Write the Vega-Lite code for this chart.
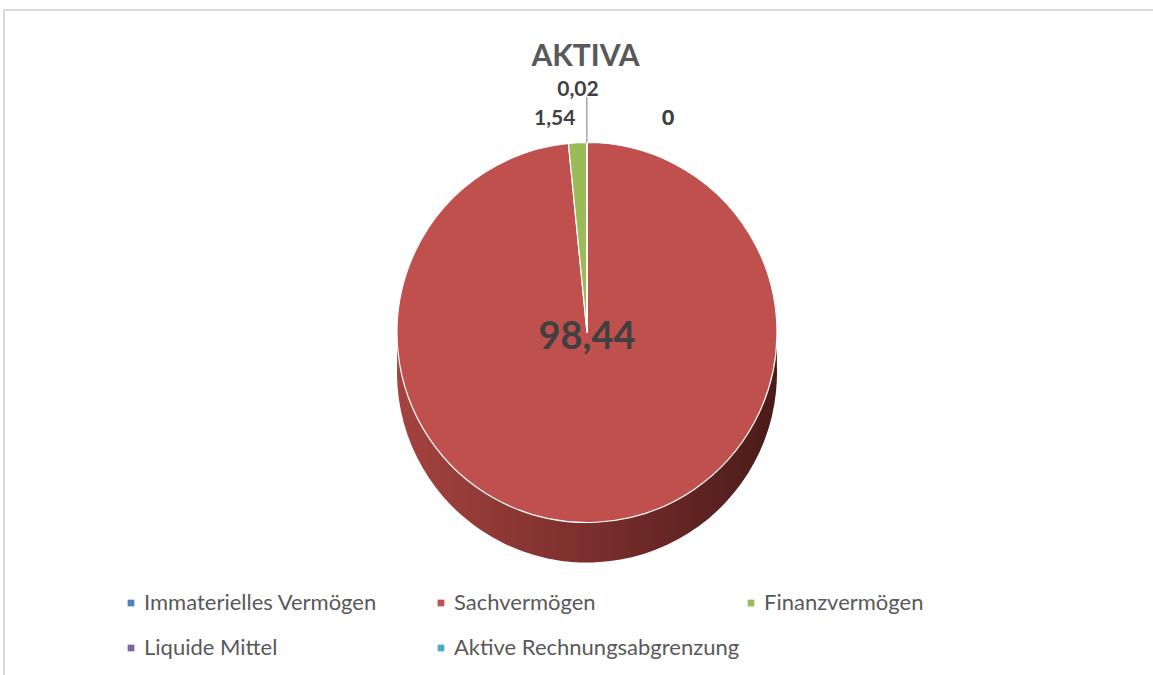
{
  "$schema": "https://vega.github.io/schema/vega-lite/v6.json",
  "width": 1153,
  "height": 675,
  "autosize": {"type": "fit", "contains": "padding"},
  "padding": {"left": 4, "top": 10, "right": -4, "bottom": -4},
  "background": "white",
  "view": {"stroke": "#d0d0d0", "strokeWidth": 1.5},
  "config": {
    "view": {"stroke": "#d0d0d0", "strokeWidth": 1.5},
    "locale": {"number": {"decimal": ",", "thousands": ".", "grouping": [3], "currency": ["", " €"]}}
  },
  "title": {
    "text": "AKTIVA",
    "font": "Lato",
    "fontSize": 30,
    "fontWeight": "bold",
    "color": "#595959",
    "anchor": "middle",
    "offset": -62,
    "dx": 5
  },
  "data": {
    "values": [
      {"nr": 1, "kategorie": "Immaterielles Vermögen", "wert": 0},
      {"nr": 2, "kategorie": "Sachvermögen", "wert": 98.44},
      {"nr": 3, "kategorie": "Finanzvermögen", "wert": 1.54},
      {"nr": 4, "kategorie": "Liquide Mittel", "wert": 0.02},
      {"nr": 5, "kategorie": "Aktive Rechnungsabgrenzung", "wert": 0}
    ]
  },
  "transform": [
    {"stack": "wert", "groupby": [], "sort": [{"field": "nr", "order": "ascending"}], "as": ["v0", "v1"]}
  ],
  "layer": [
    {
      "mark": {"type": "arc", "radius": 190, "xOffset": 6.5, "yOffset": 28, "stroke": null,
        "color": {"gradient": "linear", "x1": 0, "y1": 0, "x2": 1, "y2": 0,
          "stops": [{"offset": 0, "color": "#a4433f"}, {"offset": 0.5, "color": "#7b2f2d"}, {"offset": 1, "color": "#4a1b19"}]}},
      "encoding": {
        "theta": {"field": "v0", "type": "quantitative", "scale": {"domain": [0, 100]}},
        "theta2": {"field": "v1"}
      }
    },
    {
      "mark": {"type": "arc", "radius": 190, "xOffset": 6.5, "yOffset": 8, "stroke": null,
        "color": {"gradient": "linear", "x1": 0, "y1": 0, "x2": 1, "y2": 0,
          "stops": [{"offset": 0, "color": "#a4433f"}, {"offset": 0.5, "color": "#7b2f2d"}, {"offset": 1, "color": "#4a1b19"}]}},
      "encoding": {
        "theta": {"field": "v0", "type": "quantitative", "scale": {"domain": [0, 100]}},
        "theta2": {"field": "v1"}
      }
    },
    {
      "mark": {"type": "arc", "radius": 190, "xOffset": 6.5, "yOffset": -12, "stroke": "#ffffff", "strokeWidth": 1.2},
      "encoding": {
        "theta": {"field": "v0", "type": "quantitative", "scale": {"domain": [0, 100]}},
        "theta2": {"field": "v1"},
        "color": {
          "field": "kategorie",
          "type": "nominal",
          "scale": {
            "domain": ["Immaterielles Vermögen", "Sachvermögen", "Finanzvermögen", "Liquide Mittel", "Aktive Rechnungsabgrenzung"],
            "range": ["#4f81bd", "#c0504d", "#9bbb59", "#8064a2", "#4bacc6"]
          },
          "legend": {
            "title": null,
            "orient": "none",
            "legendX": 116,
            "legendY": 582,
            "direction": "horizontal",
            "columns": 3,
            "gridAlign": "all",
            "columnPadding": 0,
            "rowPadding": 23,
            "symbolType": "square",
            "symbolSize": 45,
            "symbolStrokeWidth": 0,
            "labelFont": "Lato",
            "labelFontSize": 22,
            "labelColor": "#595959",
            "labelOffset": 2,
            "labelLimit": 400
          }
        }
      }
    },
    {
      "transform": [{"filter": "datum.kategorie === 'Liquide Mittel'"}],
      "mark": {"type": "arc", "radius": 190, "radius2": 235, "xOffset": 6.5, "yOffset": -12, "stroke": "#a6a6a6", "strokeWidth": 1.2, "fill": null},
      "encoding": {
        "theta": {"field": "v0", "type": "quantitative", "scale": {"domain": [0, 100]}},
        "theta2": {"field": "v1"}
      }
    },
    {
      "transform": [{"filter": "datum.kategorie === 'Sachvermögen'"}],
      "mark": {"type": "text", "font": "Lato", "fontSize": 38, "fontWeight": "bold", "color": "#404040", "xOffset": 6.5, "yOffset": -7},
      "encoding": {
        "text": {"field": "wert", "type": "quantitative", "format": ".2~f"}
      }
    },
    {
      "transform": [{"filter": "datum.kategorie === 'Liquide Mittel'"}],
      "mark": {"type": "text", "font": "Lato", "fontSize": 21, "fontWeight": "bold", "color": "#404040", "radius": 190, "xOffset": 6.5, "yOffset": -12, "dx": -9, "dy": -53},
      "encoding": {
        "theta": {"field": "v1", "type": "quantitative", "scale": {"domain": [0, 100]}},
        "text": {"field": "wert", "type": "quantitative", "format": ".2~f"}
      }
    },
    {
      "transform": [{"filter": "datum.kategorie === 'Finanzvermögen'"}],
      "mark": {"type": "text", "font": "Lato", "fontSize": 21, "fontWeight": "bold", "color": "#404040", "radius": 190, "xOffset": 6.5, "yOffset": -12, "dx": -32, "dy": -24},
      "encoding": {
        "theta": {"field": "v1", "type": "quantitative", "scale": {"domain": [0, 100]}},
        "text": {"field": "wert", "type": "quantitative", "format": ".2~f"}
      }
    },
    {
      "transform": [{"filter": "datum.kategorie === 'Immaterielles Vermögen' || datum.kategorie === 'Aktive Rechnungsabgrenzung'"}],
      "mark": {"type": "text", "font": "Lato", "fontSize": 21, "fontWeight": "bold", "color": "#404040", "radius": 190, "xOffset": 6.5, "yOffset": -12, "dx": 81, "dy": -24},
      "encoding": {
        "theta": {"field": "v1", "type": "quantitative", "scale": {"domain": [0, 100]}},
        "text": {"field": "wert", "type": "quantitative", "format": ".2~f"}
      }
    }
  ]
}
